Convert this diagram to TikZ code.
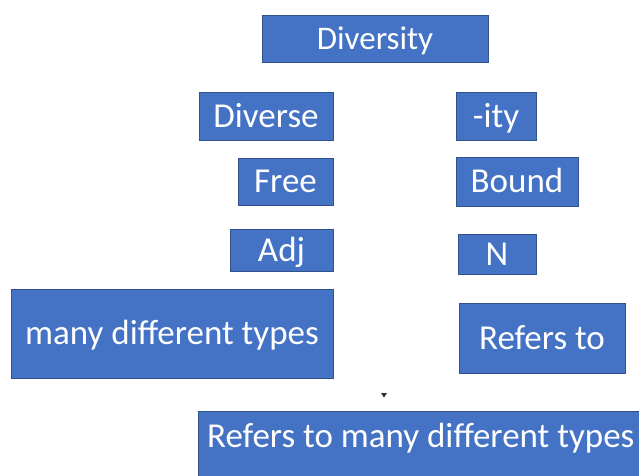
\documentclass[tikz,border=0pt]{standalone}
\usepackage{fontspec}
\setmainfont{Carlito}
\definecolor{boxblue}{RGB}{68,114,196}
\definecolor{boxline}{RGB}{47,82,143}
\begin{document}
\begin{tikzpicture}[x=1pt, y=-1pt, font=\fontsize{35}{40}\selectfont,
	wbox/.style={fill=boxblue, draw=boxline, line width=0.6pt, text=white, inner sep=0pt, text height=22pt, text depth=0pt}]
	\useasboundingbox (0,0) rectangle (639,475);
	% top word
	\node[wbox, minimum width=226pt, minimum height=47pt, font=\fontsize{33}{40}\selectfont] (diversity) at (375,38.5) {Diversity};
	% left column
	\node[wbox, minimum width=134pt, minimum height=48pt] (diverse) at (266,116) {Diverse};
	\node[wbox, minimum width=95pt, minimum height=47pt] (free) at (285.5,181.5) {Free};
	\node[wbox, minimum width=103pt, minimum height=42pt] (adj) at (281.5,250) {Adj};
	\node[wbox, minimum width=322pt, minimum height=89pt] (many) at (172,333.5) {many different types};
	% right column
	\node[wbox, minimum width=80pt, minimum height=48pt] (ity) at (496,116) {-ity};
	\node[wbox, minimum width=122pt, minimum height=49pt] (bound) at (517,181.5) {Bound};
	\node[wbox, minimum width=78pt, minimum height=40pt] (n) at (497,254) {N};
	\node[wbox, minimum width=166pt, minimum height=70pt] (refers) at (542,338) {Refers to};
	% stray mark
	\fill[black!80] (381,393) -- (387,393) -- (384,397.5) -- cycle;
	% meaning
	\node[wbox, anchor=north west, minimum width=445pt, minimum height=80pt, text depth=30pt] (meaning) at (198,411) {Refers to many different types};
\end{tikzpicture}
\end{document}
